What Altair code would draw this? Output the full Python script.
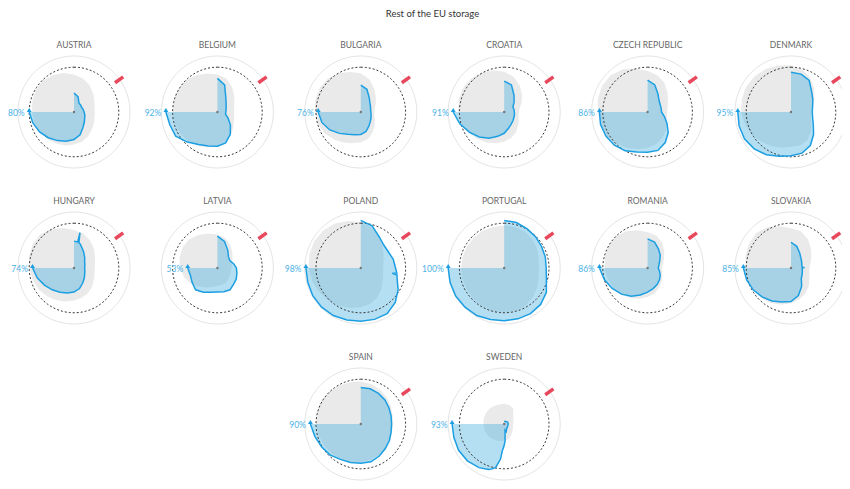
import altair as alt
import pandas as pd
import numpy as np

# ---------------- data ----------------
COUNTRIES = ["Austria", "Belgium", "Bulgaria", "Croatia", "Czech Republic", "Denmark",
             "Hungary", "Latvia", "Poland", "Portugal", "Romania", "Slovakia",
             "Spain", "Sweden"]
GRID_COL = [0, 1, 2, 3, 4, 5, 0, 1, 2, 3, 4, 5, 2, 3]
GRID_ROW = [0, 0, 0, 0, 0, 0, 1, 1, 1, 1, 1, 1, 2, 2]

# angle in degrees clockwise from 12 o'clock (1 January); 2022 runs to ~1 October (270 deg)
ANGLES_2022 = list(range(0, 271, 15))
ANGLES_AVG = list(range(0, 360, 15))

AUSTRIA_2022 = [34, 28, 18, 17, 16, 17, 18, 20, 22, 26, 32, 42, 49, 54, 59, 65, 71, 76, 80]
AUSTRIA_AVG = [67, 62, 55, 48, 42, 38, 37, 38, 41, 45, 50, 55, 58, 62, 65, 68, 71, 73, 75, 77, 79, 79, 76, 72]
BELGIUM_2022 = [60, 50, 30, 22, 18, 16, 15, 15, 22, 33, 46, 57, 61, 63, 67, 76, 86, 88, 92]
BELGIUM_AVG = [67, 62, 52, 42, 35, 31, 30, 31, 34, 40, 48, 55, 60, 65, 70, 74, 77, 79, 80, 81, 81, 80, 76, 71]
BULGARIA_2022 = [48, 42, 30, 23, 20, 18, 18, 19, 21, 24, 29, 36, 40, 42, 46, 54, 64, 72, 76]
BULGARIA_AVG = [69, 60, 48, 38, 31, 26, 24, 25, 29, 35, 42, 50, 54, 58, 63, 69, 75, 80, 82, 84, 85, 84, 80, 74]
CROATIA_2022 = [55, 50, 35, 25, 18, 18, 18, 19, 20, 22, 25, 30, 38, 45, 54, 63, 72, 82, 91]
CROATIA_AVG = [72, 65, 55, 45, 36, 29, 26, 27, 30, 35, 42, 48, 53, 58, 63, 68, 74, 79, 82, 84, 85, 84, 81, 77]
CZECH_2022 = [57, 50, 37, 29, 26, 25, 25, 31, 40, 52, 63, 71, 72, 74, 80, 84, 86, 87, 86]
CZECH_AVG = [73, 68, 60, 50, 42, 37, 35, 36, 40, 46, 53, 59, 64, 69, 74, 79, 84, 87, 89, 92, 94, 93, 88, 80]
DENMARK_2022 = [71, 70, 65, 52, 45, 40, 38, 40, 46, 57, 69, 76, 78, 82, 88, 93, 96, 96, 95]
DENMARK_AVG = [83, 78, 70, 58, 48, 40, 36, 37, 42, 50, 58, 62, 62, 66, 70, 75, 80, 85, 89, 91, 92, 91, 89, 86]
HUNGARY_2022 = [48, 44, 34, 27, 22, 20, 19, 20, 22, 26, 31, 38, 43, 46, 50, 55, 61, 68, 74]
HUNGARY_AVG = [68, 64, 57, 50, 43, 39, 37, 38, 41, 46, 51, 55, 58, 62, 66, 70, 74, 77, 80, 83, 85, 85, 80, 74]
LATVIA_2022 = [57, 49, 37, 28, 26, 30, 34, 36, 39, 41, 45, 44, 43, 45, 50, 55, 52, 50, 53]
LATVIA_AVG = [60, 55, 47, 38, 31, 27, 25, 25, 26, 28, 30, 31, 32, 35, 40, 47, 55, 62, 67, 70, 72, 72, 68, 64]
POLAND_2022 = [85, 78, 65, 58, 57, 60, 62, 67, 77, 87, 94, 95, 95, 96, 98, 99, 99, 98, 98]
POLAND_AVG = [82, 75, 65, 55, 47, 42, 40, 41, 45, 52, 60, 66, 70, 74, 78, 82, 86, 90, 93, 95, 96, 95, 92, 87]
PORTUGAL_2022 = [85, 84, 81, 79, 77, 76, 75, 78, 87, 92, 94, 94, 94, 95, 98, 99, 100, 100, 100]
PORTUGAL_AVG = [76, 76, 75, 72, 68, 64, 62, 64, 68, 73, 77, 79, 80, 80, 79, 78, 77, 77, 77, 77, 77, 77, 77, 76]
ROMANIA_2022 = [52, 48, 39, 32, 25, 21, 19, 22, 26, 30, 34, 38, 43, 50, 58, 66, 73, 80, 86]
ROMANIA_AVG = [64, 60, 52, 42, 34, 28, 26, 27, 30, 35, 41, 47, 52, 57, 62, 67, 71, 74, 77, 79, 80, 80, 76, 70]
SLOVAKIA_2022 = [46, 40, 31, 25, 22, 20, 20, 21, 23, 26, 38, 51, 60, 63, 68, 73, 78, 82, 85]
SLOVAKIA_AVG = [71, 68, 60, 50, 42, 36, 33, 34, 38, 45, 52, 58, 63, 68, 72, 76, 79, 80, 81, 84, 87, 88, 84, 77]
SPAIN_2022 = [65, 65, 63, 61, 58, 56, 55, 56, 59, 62, 66, 70, 70, 71, 73, 78, 81, 85, 90]
SPAIN_AVG = [76, 74, 70, 66, 62, 59, 57, 58, 60, 62, 64, 66, 68, 70, 72, 74, 76, 78, 80, 81, 82, 81, 79, 77]
SWEDEN_2022 = [5, 5, 5, 6, 7, 7, 7, 7, 7, 8, 9, 14, 38, 83, 90, 93, 94, 93, 93]
SWEDEN_AVG = [36, 35, 32, 23, 19, 17, 16, 16, 18, 20, 24, 28, 30, 32, 33, 35, 36, 37, 37, 38, 38, 38, 37, 36]

# extra readings where the 2022 line changes fast (angle, value)
HUNGARY_EXTRA_ANGLES = [8, 9.6, 11]
HUNGARY_EXTRA = [47, 64, 46]
POLAND_EXTRA_ANGLES = [98, 99.5, 101]
POLAND_EXTRA = [65, 57, 66]
SLOVAKIA_EXTRA_ANGLES = [86, 88, 90]
SLOVAKIA_EXTRA = [20, 24, 20]
SWEDEN_EXTRA_ANGLES = [172, 177, 184, 186, 191, 199]
SWEDEN_EXTRA = [11, 30, 48, 63, 79, 86]

SERIES_2022 = [AUSTRIA_2022, BELGIUM_2022, BULGARIA_2022, CROATIA_2022, CZECH_2022, DENMARK_2022,
               HUNGARY_2022, LATVIA_2022, POLAND_2022, PORTUGAL_2022, ROMANIA_2022, SLOVAKIA_2022,
               SPAIN_2022, SWEDEN_2022]
SERIES_AVG = [AUSTRIA_AVG, BELGIUM_AVG, BULGARIA_AVG, CROATIA_AVG, CZECH_AVG, DENMARK_AVG,
              HUNGARY_AVG, LATVIA_AVG, POLAND_AVG, PORTUGAL_AVG, ROMANIA_AVG, SLOVAKIA_AVG,
              SPAIN_AVG, SWEDEN_AVG]
EXTRAS = {"Hungary": (HUNGARY_EXTRA_ANGLES, HUNGARY_EXTRA),
          "Poland": (POLAND_EXTRA_ANGLES, POLAND_EXTRA),
          "Slovakia": (SLOVAKIA_EXTRA_ANGLES, SLOVAKIA_EXTRA),
          "Sweden": (SWEDEN_EXTRA_ANGLES, SWEDEN_EXTRA)}

TARGET_PCT = 80          # dotted ring
FULL_PCT = 100           # outer ring
INVASION_ANGLE = 54.5    # 24 February
TICK_PCT = [90, 108]
TITLE = "Rest of the EU storage"

# ---------------- style / layout ----------------
FONT = "Lato"
W, H = 834, 473
PX = 0.56                      # pixels per percentage point
X0, PITCH_X = 66, 143.4        # column centres
ROW_Y = [104, 260, 416]        # row centres
NAME_UP = 67                   # country name above centre

GRAY = "#eaeaea"
BLUE_FILL = "#3aaae0"
BLUE_LINE = "#1c9fe2"
LABEL_BLUE = "#4db2e6"
RED = "#e8485c"

ring_angles = list(range(0, 361, 3))


def centre(k):
    return X0 + PITCH_X * GRID_COL[k], ROW_Y[GRID_ROW[k]]


def series_2022(k):
    pairs = list(zip(ANGLES_2022, SERIES_2022[k]))
    if COUNTRIES[k] in EXTRAS:
        a, v = EXTRAS[COUNTRIES[k]]
        pairs += list(zip(a, v))
    pairs.sort(key=lambda t: t[0])
    return [p[0] for p in pairs], [p[1] for p in pairs]


def frame(kind, get, closed_centre=False):
    out = []
    for k, name in enumerate(COUNTRIES):
        gx, gy = centre(k)
        a, v = get(k)
        a, v = list(a), list(v)
        if closed_centre:
            a, v = [0] + a, [0] + v
        for i, (aa, vv) in enumerate(zip(a, v)):
            out.append({"key": f"{name}-{kind}", "angle": aa, "pct": vv, "i": i, "gx": gx, "gy": gy})
    return pd.DataFrame(out)


ring_full = frame("full", lambda k: (ring_angles, [FULL_PCT] * len(ring_angles)))
ring_target = frame("target", lambda k: (ring_angles, [TARGET_PCT] * len(ring_angles)))
avg_df = frame("avg", lambda k: (ANGLES_AVG, SERIES_AVG[k]))
fill_df = frame("fill", series_2022, closed_centre=True)
cur_df = frame("cur", series_2022)
tick_df = frame("tick", lambda k: ([INVASION_ANGLE, INVASION_ANGLE], TICK_PCT))
last_df = pd.DataFrame([{"angle": ANGLES_2022[-1], "pct": s[-1], "label": f"{s[-1]}%",
                         "gx": centre(k)[0], "gy": centre(k)[1]} for k, s in enumerate(SERIES_2022)])
centre_df = pd.DataFrame([{"angle": 0, "pct": 0, "gx": centre(k)[0], "gy": centre(k)[1]}
                          for k in range(len(COUNTRIES))])
name_df = pd.DataFrame([{"name": n.upper(), "gx": centre(k)[0], "gy": centre(k)[1]}
                        for k, n in enumerate(COUNTRIES)])
title_df = pd.DataFrame({"name": [TITLE], "gx": [(centre(0)[0] + centre(5)[0]) / 2], "gy": [6]})

CALC = dict(x=f"datum.gx + datum.pct*{PX}*sin(datum.angle*PI/180)",
            y=f"datum.gy - datum.pct*{PX}*cos(datum.angle*PI/180)")

X = alt.X("x:Q", scale=alt.Scale(domain=[0, W], nice=False, zero=False), axis=None)
Y = alt.Y("y:Q", scale=alt.Scale(domain=[0, H], reverse=True, nice=False, zero=False), axis=None)


def line(df, **kw):
    return (alt.Chart(df).mark_line(**kw).transform_calculate(**CALC)
            .encode(x=X, y=Y, detail="key:N", order=alt.Order("i:Q")))


layers = [
    line(ring_full, color="#e4e4e4", strokeWidth=1),
    line(avg_df, interpolate="linear-closed", fill=GRAY, strokeWidth=0),
    line(fill_df, interpolate="linear-closed", fill=BLUE_FILL, fillOpacity=0.38, strokeWidth=0),
    line(ring_target, color="#333333", strokeWidth=1, strokeDash=[2, 2]),
    line(cur_df, color=BLUE_LINE, strokeWidth=1.5),
    line(tick_df, color=RED, strokeWidth=3.5, strokeCap="butt"),
    alt.Chart(centre_df).mark_point(filled=True, size=6, color="#777777", opacity=1)
        .transform_calculate(**CALC).encode(x=X, y=Y),
    alt.Chart(last_df).mark_point(shape="triangle-up", filled=True, size=24, color=BLUE_LINE,
                                  opacity=1, yOffset=-2).transform_calculate(**CALC).encode(x=X, y=Y),
    alt.Chart(last_df).mark_text(align="right", baseline="middle", dx=-4.5, dy=1, fontSize=8.5,
                                 font=FONT, color=LABEL_BLUE)
        .transform_calculate(**CALC).encode(x=X, y=Y, text="label:N"),
    alt.Chart(name_df).mark_text(align="center", baseline="middle", fontSize=8.5, font=FONT,
                                 color="#666666")
        .transform_calculate(x="datum.gx", y=f"datum.gy - {NAME_UP}")
        .encode(x=X, y=Y, text="name:N"),
    alt.Chart(title_df).mark_text(align="center", baseline="middle", fontSize=9.5, font=FONT,
                                  color="#333333")
        .transform_calculate(x="datum.gx", y="datum.gy")
        .encode(x=X, y=Y, text="name:N"),
]

chart = alt.layer(*layers).properties(
    width=W, height=H, padding=0, autosize=alt.AutoSizeParams(type="none"),
).configure_view(strokeWidth=0)

chart.save("out.html", embed_options={"renderer": "svg", "actions": False})
